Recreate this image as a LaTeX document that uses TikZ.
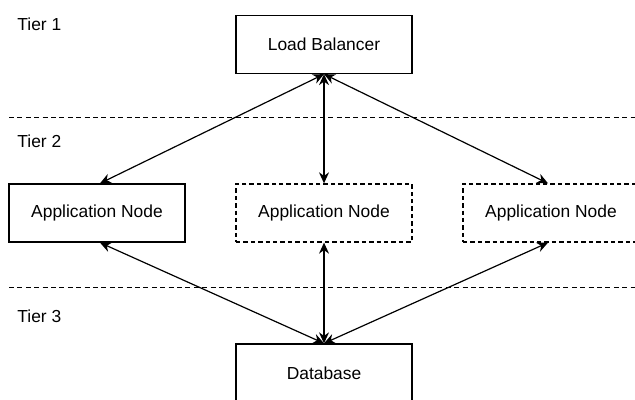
\documentclass[tikz,border=0pt]{standalone}
\usepackage{fontspec}
\setmainfont{Liberation Sans}
\usepackage{tikz}
\usetikzlibrary{arrows.meta}
\tikzset{box/.style={draw, rectangle, line width=0.65pt, minimum width=88pt, minimum height=29pt, inner sep=0pt, font=\fontsize{8.7}{10}\selectfont},
  ghostbox/.style={box, dash pattern=on 2.2pt off 1.5pt},
  tier/.style={anchor=west, inner sep=0pt, font=\fontsize{8.7}{10}\selectfont},
  link/.style={{Stealth[length=5.5pt,width=5pt]}-{Stealth[length=5.5pt,width=5pt]}, line width=0.6pt},
  divider/.style={line width=0.5pt, dash pattern=on 2.5pt off 1.7pt}}

\begin{document}
\begin{tikzpicture}[x=0.5pt,y=-0.5pt]
		\useasboundingbox (0,0) rectangle (635,400);
		\clip (0,0) rectangle (635,400);
		% tiers
		\node[tier] (t1) at (17,24) {Tier 1};
		\node[tier] (t2) at (17,141) {Tier 2};
		\node[tier] (t3) at (17,316) {Tier 3};
		\draw[divider] (9,118) -- (635,118);
		\draw[divider] (9,287) -- (635,287);
		% boxes
		\node[box] (lb) at (324,44.5) {Load Balancer};
		\node[box] (app1) at (97,213) {Application Node};
		\node[ghostbox] (app2) at (324,213) {Application Node};
		\node[ghostbox] (app3) at (551,213) {Application Node};
		\node[box] (db) at (324,373) {Database};
		% links
		\draw[link] (lb.south) -- ([xshift=1.5pt]app1.north);
		\draw[link] (lb.south) -- (app2.north);
		\draw[link] (lb.south) -- ([xshift=-1.5pt]app3.north);
		\draw[link] (db.north) -- ([xshift=1.5pt]app1.south);
		\draw[link] (db.north) -- (app2.south);
		\draw[link] (db.north) -- ([xshift=-1.5pt]app3.south);
\end{tikzpicture}
\end{document}
